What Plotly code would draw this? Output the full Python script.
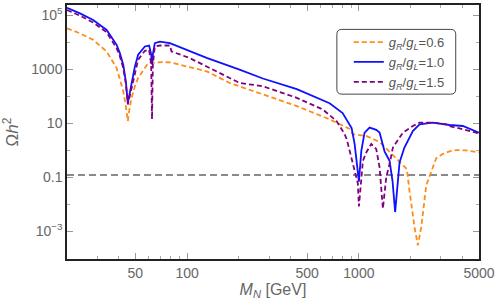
import plotly.graph_objects as go

# ---- data ----
mN_06 = [20, 23.8, 28.4, 34, 38.9, 42.5, 44.0, 45.2, 46.0, 47.5, 49.7, 51.9, 59.3, 65, 72, 80, 100, 130, 177, 202,
         276, 435, 675, 773, 883, 919, 1000, 1109, 1319, 1508, 1724, 1900, 1971, 2108, 2203, 2306, 2466, 2683,
         2818, 3066, 3368, 3684, 4211, 5000]
oh_06 = [3.2e4, 2.1e4, 1.2e4, 4480, 1090, 151, 42.6, 11.9, 27.9, 86, 231, 467, 1660, 1780, 1810, 1750, 1260, 823,
         306, 231, 115, 42.6, 13.8, 9.0, 6.1, 3.9, 3.6, 3.3, 2.0, 0.85, 0.38, 0.2, 0.03, 0.0014, 0.0003, 0.0014,
         0.05, 0.23, 0.5, 0.71, 0.9, 1.0, 0.97, 0.82]

mN_10 = [20, 23.8, 28.4, 34, 38.9, 40.6, 42.5, 44.0, 45.2, 47.5, 49.7, 51.9, 56.8, 60.1, 61.8, 62.5, 63.2, 64.9,
         69.4, 79.4, 103.7, 130, 202, 276, 435, 591, 675, 804, 907, 944, 970, 1000, 1033, 1079, 1154, 1262, 1319,
         1410, 1508, 1570, 1625, 1679, 1724, 1840, 2060, 2254, 2683, 3368, 4025, 5000]
oh_10 = [1.85e5, 1.15e5, 6.5e4, 2.8e4, 7890, 3870, 1450, 353, 56, 267, 1256, 3380, 6840, 7430, 3500, 1490, 3500,
         9040, 1.04e4, 9040, 4480, 2600, 950, 446, 180, 77, 54, 23.5, 6.6, 1.71, 0.40, 0.068, 0.94, 4.44, 6.78,
         5.6, 4.44, 0.9, 0.4, 0.07, 0.0051, 0.06, 0.35, 1.25, 5.1, 8.9, 10.4, 8.5, 7.8, 4.4]

mN_15 = [20, 23.8, 28.4, 34, 38.9, 40.6, 42.5, 44.0, 45.2, 47.5, 49.7, 51.9, 56.8, 60.1, 61.8, 62.5, 63.2, 64.9,
         69.4, 79.4, 81.2, 103.7, 202, 276, 435, 615, 741, 826, 850, 883, 919, 986, 1000, 1023, 1055, 1104, 1180,
         1262, 1319, 1379, 1443, 1508, 1577, 1724, 1803, 2061, 2254, 2466, 2693, 3221, 3368, 4816, 5000]
oh_15 = [1.53e5, 9.4e4, 5.3e4, 2.3e4, 5920, 3000, 1090, 290, 49, 200, 850, 2220, 4750, 5170, 1500, 13.8, 1500,
         6840, 7430, 7430, 4480, 2540, 306, 231, 86, 32.2, 11.9, 3.87, 2.5, 0.9, 0.4, 0.058, 0.0082, 0.058, 0.40,
         0.82, 1.7, 1.09, 0.23, 0.0068, 0.1, 0.31, 1.25, 2.91, 4.44, 7.8, 10.4, 10.4, 10.4, 9.0, 7.8, 4.4, 3.9]

planck_x = [20, 5000]
planck_y = [0.12, 0.12]

names = ["<i>g</i><sub><i>R</i></sub>/<i>g</i><sub><i>L</i></sub>=0.6",
         "<i>g</i><sub><i>R</i></sub>/<i>g</i><sub><i>L</i></sub>=1.0",
         "<i>g</i><sub><i>R</i></sub>/<i>g</i><sub><i>L</i></sub>=1.5"]

x_tickvals = [50, 100, 500, 1000, 5000]
x_ticktext = ["50", "100", "500", "1000", "5000"]
x_minor = [20, 30, 40, 60, 70, 80, 90, 200, 300, 400, 600, 700, 800, 900, 2000, 3000, 4000]
y_tickvals = [1e5, 1e3, 10, 0.1, 1e-3]
y_ticktext = ["10<sup>5</sup>", "1000", "10", "0.1", "10<sup>\u22123</sup>"]
y_minor = [1e4, 100, 1, 0.01, 1e-4]

fig = go.Figure()
fig.add_trace(go.Scatter(x=planck_x, y=planck_y, mode="lines", showlegend=False,
                         line=dict(color="#8a8a8a", width=1.8, dash="7px,4px")))
fig.add_trace(go.Scatter(x=mN_06, y=oh_06, mode="lines", name=names[0],
                         line=dict(color="#ff8c1a", width=1.8, dash="5px,3px")))
fig.add_trace(go.Scatter(x=mN_10, y=oh_10, mode="lines", name=names[1],
                         line=dict(color="#1010ff", width=1.8)))
fig.add_trace(go.Scatter(x=mN_15, y=oh_15, mode="lines", name=names[2],
                         line=dict(color="#800080", width=1.8, dash="5px,3px")))

# rounded legend frame
x0, x1, y0, y1 = 0.655, 0.9435, 0.649, 0.904
rx, ry = 0.0121, 0.0196
path = (f"M{x0+rx},{y0} L{x1-rx},{y0} Q{x1},{y0} {x1},{y0+ry} L{x1},{y1-ry} Q{x1},{y1} {x1-rx},{y1} "
        f"L{x0+rx},{y1} Q{x0},{y1} {x0},{y1-ry} L{x0},{y0+ry} Q{x0},{y0} {x0+rx},{y0} Z")
fig.add_shape(type="path", xref="paper", yref="paper", path=path,
              line=dict(color="#444", width=1), fillcolor="white", layer="above")

axis_common = dict(showline=True, linecolor="#222", linewidth=1.5, mirror="allticks",
                   ticks="inside", ticklen=6, tickcolor="#999", tickwidth=1, showgrid=False, zeroline=False,
                   tickfont=dict(size=14, color="#666"))

fig.update_layout(
    width=498, height=308,
    margin=dict(l=67, r=19, t=3, b=49),
    paper_bgcolor="white", plot_bgcolor="white",
    font=dict(family="Liberation Sans, Arial, sans-serif", color="#666"),
    xaxis=dict(type="log", range=[1.30103, 3.69897], tickmode="array", tickvals=x_tickvals,
               ticktext=x_ticktext,
               minor=dict(tickmode="array", tickvals=x_minor, ticks="inside", ticklen=3, tickcolor="#aaa"),
               title=dict(text="<i>M</i><sub><i>N</i></sub> [GeV]", font=dict(size=16, color="#666"), standoff=4),
               **axis_common),
    yaxis=dict(type="log", range=[-4.03, 5.37], tickmode="array", tickvals=y_tickvals,
               ticktext=y_ticktext,
               minor=dict(tickmode="array", tickvals=y_minor, ticks="inside", ticklen=3, tickcolor="#aaa"),
               title=dict(text="\u03a9<i>h</i><sup>2</sup>", font=dict(size=17, color="#666"), standoff=8),
               **axis_common),
    legend=dict(x=0.684, y=0.913, xanchor="left", yanchor="top", bgcolor="rgba(0,0,0,0)",
                borderwidth=0, font=dict(size=13, color="#555"), tracegroupgap=0),
)

fig.write_html("out.html", config={"displayModeBar": False},
               post_script="document.body.style.margin='0';document.body.style.padding='0';")
